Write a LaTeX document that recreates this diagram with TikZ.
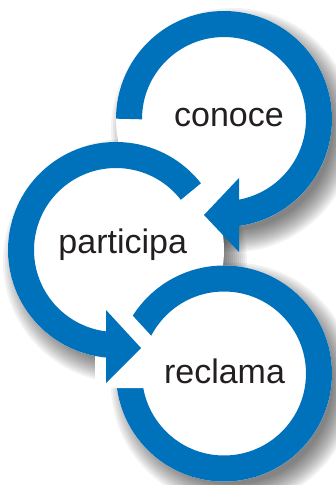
\documentclass[tikz,border=0pt]{standalone}
\usepackage{fontspec}
\setmainfont{Liberation Sans}
\usetikzlibrary{calc}
\definecolor{ringblue}{RGB}{0,113,187}
\definecolor{txt}{RGB}{35,31,32}
\begin{document}
\begin{tikzpicture}[x=1pt,y=1pt,
  ring/.style={draw=ringblue,line width=26pt},
  arrowtip/.style={fill=ringblue},
  gapfill/.style={fill=white},
  lbl/.style={text=txt,font=\fontsize{34}{40}\selectfont,anchor=base,inner sep=0pt},
  shadowlayer/.style={fill=black,fill opacity=0.05}]
\useasboundingbox (0,0) rectangle (336,-485);
\fill[white] (0,0) rectangle (336,-485);
\coordinate (c1) at (224,-119);
\coordinate (c2) at (116,-250);
\coordinate (c3) at (224,-373.5);
% soft shadows, offset to the lower right
\foreach \c in {c1,c2,c3}{
  \foreach \r in {100,102,...,122}{
    \fill[shadowlayer] ($(\c)+(9,-11)$) circle[radius=\r];
  }
}
% white interiors
\foreach \c in {c1,c2,c3}{\fill[white] (\c) circle[radius=108];}
% bottom ring with gap
\draw[ring] (c3) circle[radius=95];
\fill[gapfill] (95,-388) -- (199.2,-388) -- (105.3,-286) -- (95,-286) -- cycle;
% top and middle rings
\draw[ring] ($(c1)+(180:95)$) arc[start angle=180,end angle=-91,radius=95];
\draw[ring] ($(c2)+(38:95)$) arc[start angle=38,end angle=273,radius=95];
% arrowheads
\fill[arrowtip] (204,-215) coordinate (tip1) -- (239,-178) -- (239,-252) -- cycle;
\fill[arrowtip] (141,-348) coordinate (tip2) -- (106,-310) -- (106,-383) -- cycle;
% labels
\node[lbl] (conoce) at (229,-126.5) {conoce};
\node[lbl] (participa) at (122.7,-253) {participa};
\node[lbl] (reclama) at (224.5,-383) {reclama};
\end{tikzpicture}
\end{document}
